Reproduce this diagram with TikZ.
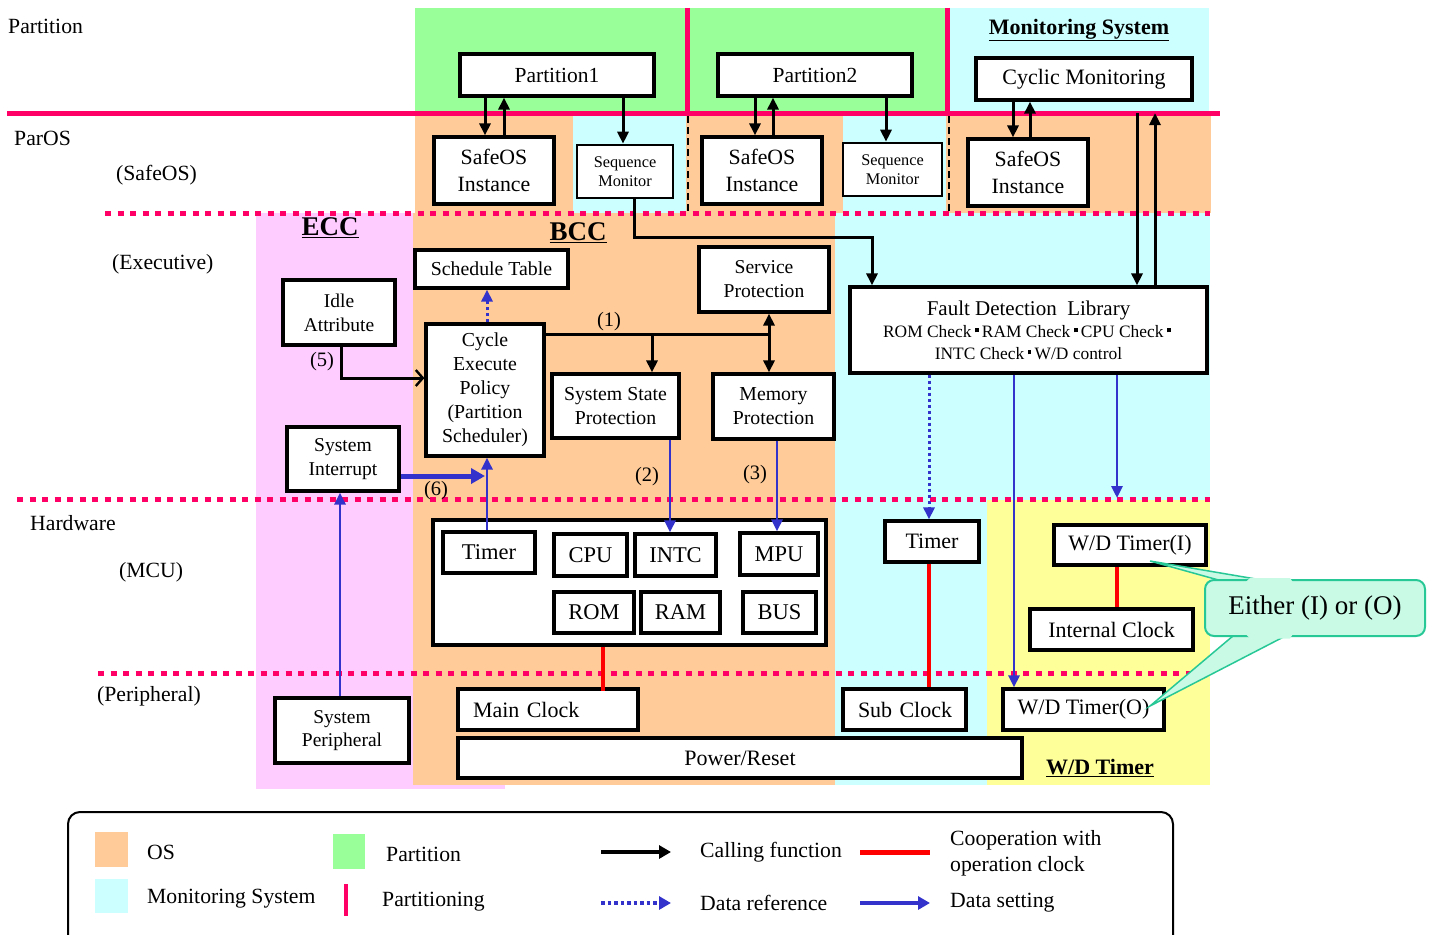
\documentclass[tikz,border=0pt]{standalone}
\usepackage{fontspec}
\setmainfont{Liberation Serif}
\usetikzlibrary{arrows.meta}
\definecolor{osc}{RGB}{255,204,153}
\definecolor{monc}{RGB}{204,255,255}
\definecolor{parc}{RGB}{153,255,153}
\definecolor{eccc}{RGB}{255,204,255}
\definecolor{wdc}{RGB}{255,255,153}
\definecolor{pred}{RGB}{255,0,102}
\definecolor{cred}{RGB}{255,0,0}
\definecolor{dblue}{RGB}{51,51,204}
\definecolor{tealb}{RGB}{40,200,150}
\definecolor{mint}{RGB}{200,250,230}
\newcommand\fsz[2]{\fontsize{#1}{#2}\selectfont}
\newcommand\kdot{\hbox to 0.6em{\hss\rule[0.28em]{0.22em}{0.22em}\hss}}
% box: name, centre, width, height, text
\newcommand\bx[6][]{\node[box,minimum width=#4pt,minimum height=#5pt,#1] (#2) at (#3) {#6};}
\tikzset{
  box/.style={draw, line width=3.2pt, fill=white, inner sep=2pt, align=center, font=\fsz{21.5}{26}},
  carr/.style={line width=3pt, -{Triangle[length=12pt,width=11pt]}},
  cline/.style={line width=3pt},
  openarr/.style={line width=3pt, -{Straight Barb[length=7pt,width=16pt,line width=2.4pt]}},
  barr/.style={draw=dblue, line width=2.8pt, -{Triangle[length=12pt,width=11pt]}},
  bthick/.style={draw=dblue, line width=5pt, -{Triangle[length=14pt,width=15pt]}},
  dref/.style={draw=dblue, line width=3pt, dash pattern=on 3.5pt off 2.5pt, -{Triangle[length=12pt,width=11pt]}},
  coop/.style={draw=cred, line width=4pt},
  pline/.style={draw=pred, line width=5pt},
  dotline/.style={draw=pred, line width=5pt, dash pattern=on 6pt off 6.5pt},
  pdash/.style={line width=2.5pt, dash pattern=on 7pt off 4pt},
  lbl/.style={anchor=west, inner sep=0pt, font=\fsz{21.7}{26}},
  num/.style={inner sep=0pt, font=\fsz{20.5}{24}},
  head/.style={inner sep=0pt, font=\bfseries\fsz{22}{26}},
}
\begin{document}
\begin{tikzpicture}[x=1pt,y=-1pt]
\useasboundingbox (0,0) rectangle (1434,934);

% ---- coloured areas ----
\fill[eccc] (256,213) rectangle (505,789);
\fill[osc] (413,213) rectangle (835,785);
\fill[monc] (835,213) rectangle (1210,785);
\fill[wdc] (987,500) rectangle (1210,785);
\fill[parc] (415,8) rectangle (946,113);
\fill[monc] (948,8) rectangle (1209,113);
\fill[osc] (415,113) rectangle (1211,213);
\fill[monc] (573,116) rectangle (686,213);
\fill[monc] (843,116) rectangle (946,213);

% ---- layer separators ----
\draw[pline] (687,8) -- (687,113);
\draw[pline] (947,8) -- (947,113);
\draw[pdash] (688,116) -- (688,213);
\draw[pdash] (949,116) -- (949,213);
\draw[pline] (7,113) -- (1220,113);
\draw[dotline] (105,213) -- (1210,213);
\draw[dotline] (17,499) -- (1210,499);
\draw[dotline] (98,673) -- (1198,673);

% ---- layer labels ----
\node[lbl] at (8,26) {Partition};
\node[lbl] at (14,138) {ParOS};
\node[lbl] at (116,175) {(SafeOS)};
\node[lbl] at (112,264) {(Executive)};
\node[lbl] at (30,523) {Hardware};
\node[lbl] at (119,572) {(MCU)};
\node[lbl] at (97,696) {(Peripheral)};

\node[head] at (1079,30) {\underline{Monitoring System}};
\node[head, font=\bfseries\fsz{27}{30}] at (330,228) {\underline{ECC}};
\node[head, font=\bfseries\fsz{27}{30}] at (578,233) {\underline{BCC}};
\node[head] at (1100,768) {\underline{W/D Timer}};

% ---- partition layer ----
\bx{p1}{557,75}{194}{42}{Partition1}
\bx{p2}{815,75}{194}{42}{Partition2}
\bx[font=\fsz{22}{26}]{cyc}{1084,79}{216}{42}{Cyclic Monitoring}

% ---- SafeOS layer ----
\bx[font=\fsz{21.8}{27}]{so1}{494,170.5}{120}{67}{SafeOS\\Instance}
\bx[font=\fsz{16.3}{19}, line width=2.6pt]{sm1}{625,171.5}{96}{53}{Sequence\\Monitor}
\bx[font=\fsz{21.8}{27}]{so2}{762,170.5}{120}{67}{SafeOS\\Instance}
\bx[font=\fsz{16.3}{19}, line width=2.6pt]{sm2}{892.5,169.5}{99}{53}{Sequence\\Monitor}
\bx[font=\fsz{21.8}{27}]{so3}{1028,172.5}{120}{67}{SafeOS\\Instance}

% ---- executive layer ----
\bx[font=\fsz{19.8}{24}]{sched}{491.5,269}{153}{38}{Schedule Table}
\bx[font=\fsz{19.6}{24}]{svc}{764,279.5}{130}{65}{Service\\Protection}
\bx[font=\fsz{19.5}{24}]{idle}{339,312.5}{112}{65}{Idle\\Attribute}
\bx[font=\fsz{19.8}{24}]{cep}{485,390}{118}{132}{Cycle\\Execute\\Policy\\(Partition\\Scheduler)}
\bx[font=\fsz{19.8}{24}]{ssp}{615.5,406}{127}{64}{System State\\Protection}
\bx[font=\fsz{19.8}{24}]{mem}{773.5,406.5}{121}{65}{Memory\\Protection}
\bx[font=\fsz{19.6}{24}]{sint}{343,459}{112}{64}{System\\Interrupt}
\bx[font=\fsz{17.4}{22}]{fdl}{1028.5,330}{357}{86}{{\fsz{21}{24}Fault Detection\ \ Library}\\ROM Check\kdot RAM Check\kdot CPU Check\kdot\\INTC Check\kdot W/D control}

% ---- hardware layer ----
\bx{mcu}{629.5,582.5}{393}{125}{}
\bx[font=\fsz{22.5}{26}]{tmr}{489,552.5}{92}{41}{Timer}
\bx[font=\fsz{22.5}{26}]{cpu}{590.5,555}{73}{42}{CPU}
\bx[font=\fsz{22.5}{26}]{intc}{675.5,555}{81}{42}{INTC}
\bx[font=\fsz{22.5}{26}]{mpu}{779,554}{78}{42}{MPU}
\bx[font=\fsz{22.5}{26}]{rom}{594,612.5}{80}{41}{ROM}
\bx[font=\fsz{22.5}{26}]{ram}{680.5,612.5}{79}{41}{RAM}
\bx[font=\fsz{22.5}{26}]{bus}{779.5,612.5}{73}{41}{BUS}
\bx[font=\fsz{22}{26}]{tmr2}{932,541.5}{94}{41}{Timer}
\bx[font=\fsz{22}{26}]{wdi}{1130,545}{152}{40}{W/D Timer(I)}
\bx[font=\fsz{22}{26}]{iclk}{1111.5,629.5}{163}{41}{Internal Clock}

% ---- peripheral layer ----
\bx[font=\fsz{22}{26}, text width=150pt, inner xsep=15pt, align=left]{mclk}{548,709.5}{180}{41}{Main Clock}
\bx[font=\fsz{22}{26}]{pwr}{740,758}{564}{40}{Power/Reset}
\bx[font=\fsz{19.5}{23}]{sper}{342,730.5}{134}{65}{System\\Peripheral}
\bx[font=\fsz{22}{26}, text width=110pt, inner xsep=6.5pt, align=left]{sclk}{904.5,709.5}{123}{41}{\hspace*{8.5pt}Sub Clock}
\bx[font=\fsz{22}{26}]{wdo}{1083.5,709.5}{161}{41}{W/D Timer(O)}

% ---- calling functions ----
\draw[carr] (p1.south -| 485,0) -- (so1.north -| 485,0);
\draw[carr] (so1.north -| 504,0) -- (p1.south -| 504,0);
\draw[carr] (p1.south -| 623,0) -- (sm1.north -| 623,0);
\draw[carr] (p2.south -| 755,0) -- (so2.north -| 755,0);
\draw[carr] (so2.north -| 773,0) -- (p2.south -| 773,0);
\draw[carr] (p2.south -| 886,0) -- (sm2.north -| 886,0);
\draw[carr] (cyc.south -| 1013,0) -- (so3.north -| 1013,0);
\draw[carr] (so3.north -| 1030,0) -- (cyc.south -| 1030,0);
\draw[carr] (sm1.south -| 634,0) -- ++(0,38) -| (fdl.north -| 872,0);
\coordinate (mdown) at (1137,113);
\coordinate (mup) at (1155,113);
\draw[carr] (mdown) -- (fdl.north -| mdown);
\draw[carr] (fdl.north -| mup) -- (mup);

\coordinate (j0) at (652,334);
\coordinate (j1) at (769,334);
\draw[cline] (cep.east |- j1) -- (j1);
\draw[carr] (j0) -- (ssp.north -| j0);
\draw[carr] (j1) -- (svc.south -| j1);
\draw[carr] (j1) -- (mem.north -| j1);
\node[num] at (609,322) {(1)};

\draw[openarr] (idle.south -| 341,0) |- (cep.west |- 0,378);
\node[num] at (322,362) {(5)};

% ---- data setting / reference ----
\draw[dref] (cep.north -| 487,0) -- (sched.south -| 487,0);
\draw[barr] (tmr.north -| 487,0) -- (cep.south -| 487,0);
\draw[bthick] (sint.east |- 0,476) -- (485,476);
\node[num] at (436,491) {(6)};
\draw[barr] (ssp.south -| 670,0) -- (intc.north -| 670,0);
\node[num] at (647,477) {(2)};
\draw[barr] (mem.south -| 777,0) -- (mpu.north -| 777,0);
\node[num] at (755,475) {(3)};
\draw[barr] (sper.north -| 340,0) -- (sint.south -| 340,0);

\draw[dref] (fdl.south -| 929,0) -- (tmr2.north -| 929,0);
\draw[barr] (fdl.south -| 1014,0) -- (wdo.north -| 1014,0);
\coordinate (wdset) at (1117,498);
\draw[barr] (fdl.south -| wdset) -- (wdset);

% ---- clock cooperation ----
\draw[coop] (mcu.south -| 603,0) -- ([yshift=-4pt]mclk.north -| 603,0);
\draw[coop] (tmr2.south -| 929,0) -- (sclk.north -| 929,0);
\draw[coop] (wdi.south -| 1117,0) -- (iclk.north -| 1117,0);

% ---- callout ----
\coordinate (tipI) at (1150,561);
\coordinate (tipO) at (1150,706);
\fill[mint, draw=tealb, line width=1.5pt] (1240,586) -- (tipI) -- (1297,586);
\fill[mint, draw=tealb, line width=1.5pt] (1240,630) -- (tipO) -- (1297,630);
\node[draw=tealb, line width=2pt, fill=mint, rounded corners=9pt, minimum width=220pt, minimum height=56pt, inner sep=0pt, font=\fsz{27}{30}] (call) at (1315,608) {Either (I) or (O)};
\fill[mint] (1241.5,586) -- (1250,578) -- (1290,578) -- (1295.5,586) -- cycle;
\fill[mint] (1241.5,630) -- (1250,638.5) -- (1290,638.5) -- (1295.5,630) -- cycle;

% ---- legend ----
\draw[line width=2pt, rounded corners=12pt] (68,945) -- (68,812) -- (1173,812) -- (1173,945);
\fill[osc] (95,832) rectangle (128,867);
\fill[monc] (95,879) rectangle (128,913);
\fill[parc] (333,834) rectangle (365,869);
\draw[draw=pred, line width=4pt] (346,884) -- (346,916);
\node[lbl] at (147,852) {OS};
\node[lbl] at (147,899) {Monitoring System};
\node[lbl] at (386,854) {Partition};
\node[lbl] at (382,902) {Partitioning};
\coordinate (la1) at (601,852); \coordinate (lb1) at (671,852);
\coordinate (la2) at (601,903); \coordinate (lb2) at (671,903);
\coordinate (la3) at (860,852); \coordinate (lb3) at (930,852);
\coordinate (la4) at (860,903); \coordinate (lb4) at (930,903);
\draw[line width=3.5pt, -{Triangle[length=12pt,width=13pt]}] (la1) -- (lb1);
\draw[draw=dblue, line width=3.5pt, dash pattern=on 3.5pt off 3pt, -{Triangle[length=12pt,width=13pt]}] (la2) -- (lb2);
\draw[draw=cred, line width=5pt] (la3) -- (lb3);
\draw[draw=dblue, line width=4pt, -{Triangle[length=12pt,width=13pt]}] (la4) -- (lb4);
\node[lbl] at (700,852) {Calling function};
\node[lbl] at (700,903) {Data reference};
\node[lbl, align=left, font=\fsz{21.7}{26}] at (950,853) {Cooperation with\\operation clock};
\node[lbl] at (950,903) {Data setting};
\end{tikzpicture}
\end{document}
